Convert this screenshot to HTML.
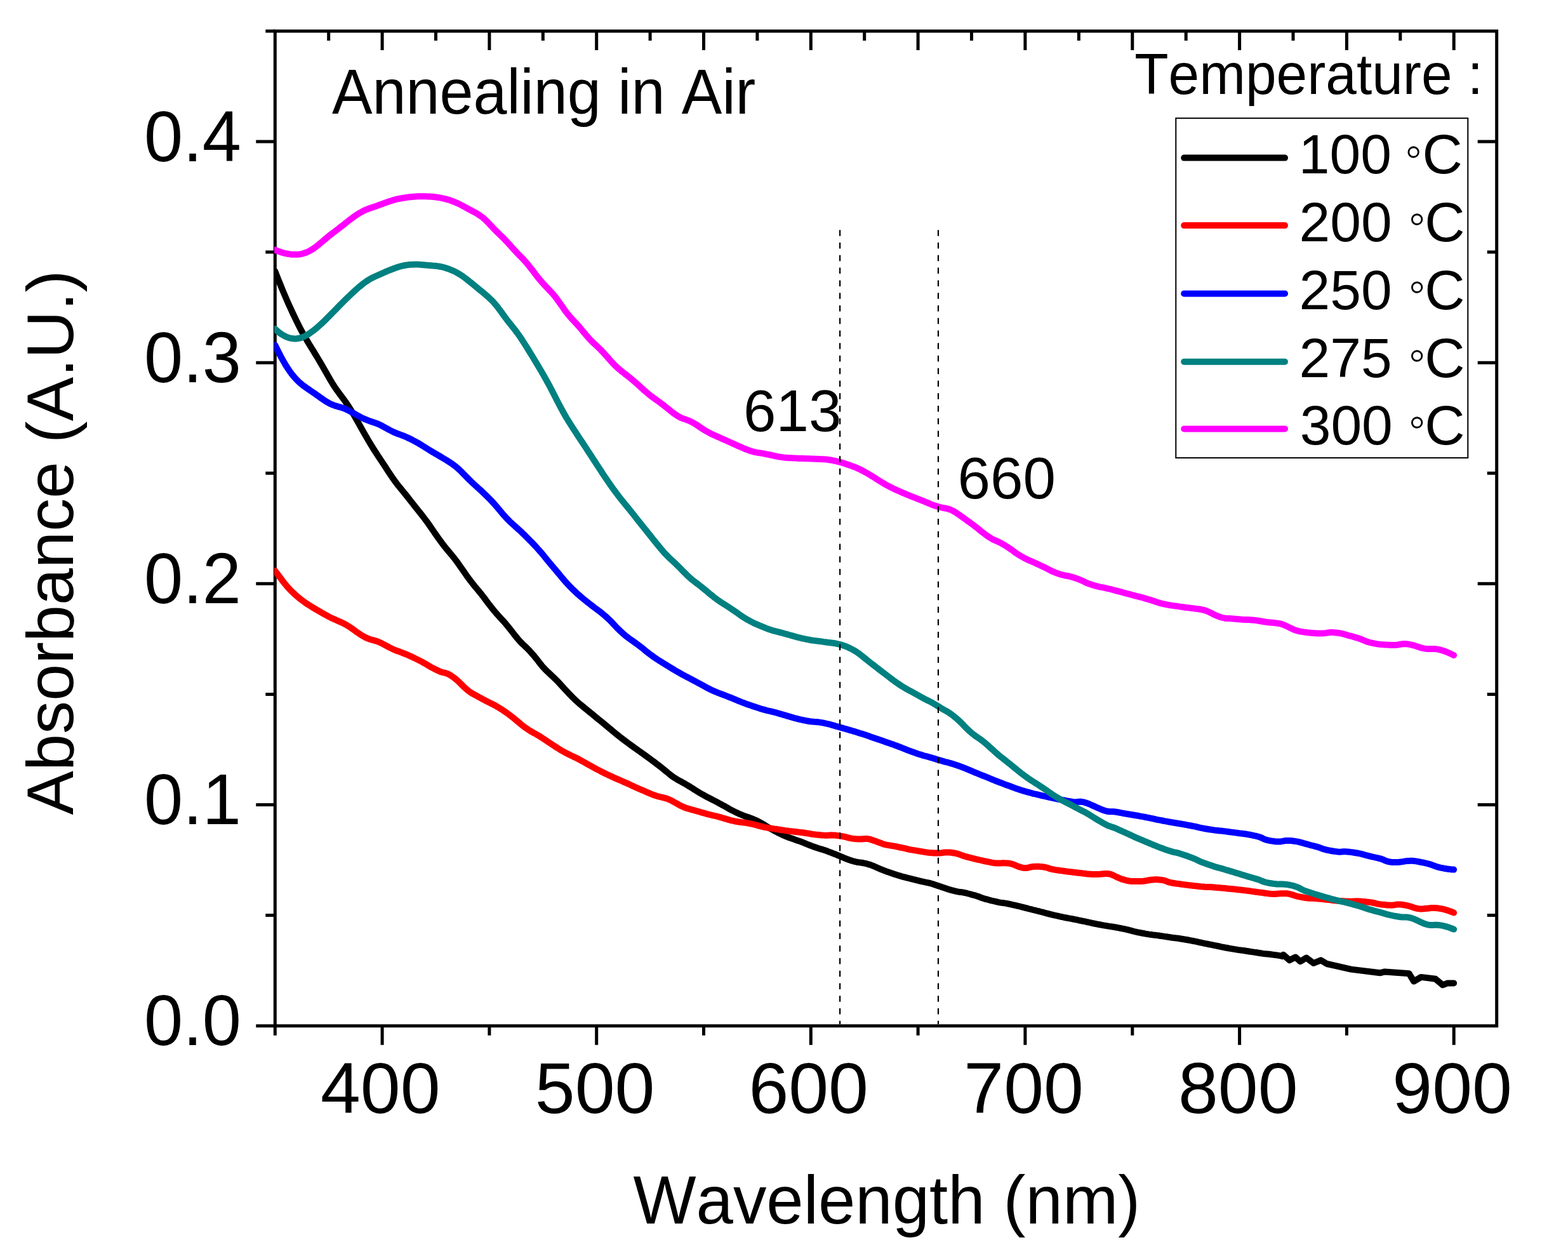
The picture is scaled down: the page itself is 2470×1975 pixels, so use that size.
<!DOCTYPE html>
<html><head><meta charset="utf-8"><title>Absorbance vs Wavelength</title>
<style>html,body{margin:0;padding:0;background:#fff;overflow:hidden}svg{display:block}text{font-family:"Liberation Sans",Arial,sans-serif;fill:#000;font-kerning:none;font-feature-settings:"kern" 0}</style></head><body>
<svg width="2470" height="1975" viewBox="0 0 2470 1975">
<rect x="0" y="0" width="2470" height="1975" fill="#fff"/>
<path d="M433.3 48.9H2357.7V1615.7H433.3Z" stroke="#000" stroke-width="5" fill="none" stroke-linejoin="miter"/>
<path d="M403.3 1615.7H433.3M418.3 1441.6H433.3M2357.7 1441.6H2342.7M403.3 1267.5H433.3M2357.7 1267.5H2327.7M418.3 1093.4H433.3M2357.7 1093.4H2342.7M403.3 919.3H433.3M2357.7 919.3H2327.7M418.3 745.3H433.3M2357.7 745.3H2342.7M403.3 571.2H433.3M2357.7 571.2H2327.7M418.3 397.1H433.3M2357.7 397.1H2342.7M403.3 223.0H433.3M2357.7 223.0H2327.7M418.3 48.9H433.3M433.3 1615.7V1630.7M602.1 1615.7V1645.7M770.9 1615.7V1630.7M939.7 1615.7V1645.7M1108.5 1615.7V1630.7M1277.3 1615.7V1645.7M1446.1 1615.7V1630.7M1614.9 1615.7V1645.7M1783.8 1615.7V1630.7M1952.6 1615.7V1645.7M2121.4 1615.7V1630.7M2290.2 1615.7V1645.7M517.7 48.9V63.9M602.1 48.9V78.9M686.5 48.9V63.9M770.9 48.9V78.9M855.3 48.9V63.9M939.7 48.9V78.9M1024.1 48.9V63.9M1108.5 48.9V78.9M1192.9 48.9V63.9M1277.3 48.9V78.9M1361.7 48.9V63.9M1446.1 48.9V78.9M1530.5 48.9V63.9M1614.9 48.9V78.9M1699.4 48.9V63.9M1783.8 48.9V78.9M1868.2 48.9V63.9M1952.6 48.9V78.9M2037.0 48.9V63.9M2121.4 48.9V78.9M2205.8 48.9V63.9M2290.2 48.9V78.9" stroke="#000" stroke-width="5" fill="none"/>
<defs><clipPath id="pc"><rect x="432" y="0" width="1980" height="1975"/></clipPath></defs><g clip-path="url(#pc)">
<path d="M433.3 427.2 L436.3 435.0 L439.3 442.6 L442.3 450.0 L445.3 457.3 L448.3 464.4 L451.3 471.4 L454.3 478.2 L457.3 484.8 L460.3 491.3 L463.3 497.7 L466.3 503.9 L469.3 510.0 L472.3 515.9 L475.3 521.6 L478.3 527.1 L481.3 532.4 L484.3 537.5 L487.3 542.5 L490.3 547.4 L493.3 552.2 L496.3 557.1 L499.3 562.0 L502.3 567.0 L505.3 572.1 L508.3 577.3 L511.3 582.5 L514.3 587.8 L517.3 593.0 L520.3 598.2 L523.3 603.2 L526.3 608.0 L529.3 612.5 L532.3 616.7 L535.3 620.8 L538.3 624.8 L541.3 628.8 L544.3 632.9 L547.3 637.3 L550.3 641.8 L553.3 646.6 L556.3 651.5 L559.3 656.7 L562.3 662.0 L565.3 667.4 L568.3 672.8 L571.3 678.1 L574.3 683.4 L577.3 688.6 L580.3 693.7 L583.3 698.8 L586.3 703.7 L589.3 708.5 L592.3 713.1 L595.3 717.7 L598.3 722.2 L601.3 726.7 L604.3 731.2 L607.3 735.8 L610.3 740.4 L613.3 745.0 L616.3 749.5 L619.3 753.9 L622.3 758.1 L625.3 762.1 L628.3 765.9 L631.3 769.5 L634.3 773.1 L637.3 776.8 L640.3 780.5 L643.3 784.3 L646.3 788.2 L649.3 792.0 L652.3 795.8 L655.3 799.6 L658.3 803.3 L661.3 807.1 L664.3 810.9 L667.3 814.8 L670.3 818.7 L673.3 822.8 L676.3 827.0 L679.3 831.3 L682.3 835.7 L685.3 840.1 L688.3 844.4 L691.3 848.6 L694.3 852.7 L697.3 856.7 L700.3 860.6 L703.3 864.3 L706.3 868.0 L709.3 871.5 L712.3 875.1 L715.3 878.8 L718.3 882.7 L721.3 886.8 L724.3 891.1 L727.3 895.4 L730.3 899.7 L733.3 904.0 L736.3 908.3 L739.3 912.4 L742.3 916.3 L745.3 920.1 L748.3 923.8 L751.3 927.4 L754.3 931.0 L757.3 934.7 L760.3 938.5 L763.3 942.4 L766.3 946.4 L769.3 950.4 L772.3 954.3 L775.3 958.1 L778.3 961.8 L781.3 965.4 L784.3 968.8 L787.3 972.1 L790.3 975.3 L793.3 978.5 L796.3 982.0 L799.3 985.6 L802.3 989.4 L805.3 993.2 L808.3 997.0 L811.3 1000.8 L814.3 1004.5 L817.3 1008.1 L820.3 1011.4 L823.3 1014.4 L826.3 1017.2 L829.3 1020.0 L832.3 1023.0 L835.3 1026.2 L838.3 1029.6 L841.3 1033.1 L844.3 1036.7 L847.3 1040.5 L850.3 1044.4 L853.3 1048.2 L856.3 1051.6 L859.3 1054.7 L862.3 1057.7 L865.3 1060.5 L868.3 1063.4 L871.3 1066.2 L874.3 1069.0 L877.3 1072.0 L880.3 1075.1 L883.3 1078.4 L886.3 1081.7 L889.3 1085.0 L892.3 1088.2 L895.3 1091.4 L898.3 1094.5 L901.3 1097.6 L904.3 1100.5 L907.3 1103.4 L910.3 1106.1 L913.3 1108.7 L916.3 1111.2 L919.3 1113.7 L922.3 1116.2 L925.3 1118.6 L928.3 1121.0 L931.3 1123.4 L934.3 1125.9 L937.3 1128.3 L940.3 1130.8 L943.3 1133.3 L946.3 1135.7 L949.3 1138.2 L952.3 1140.7 L955.3 1143.2 L958.3 1145.7 L961.3 1148.2 L964.3 1150.7 L967.3 1153.1 L970.3 1155.6 L973.3 1158.0 L976.3 1160.4 L979.3 1162.7 L982.3 1165.0 L985.3 1167.3 L988.3 1169.5 L991.3 1171.7 L994.3 1173.9 L997.3 1176.1 L1000.3 1178.3 L1003.3 1180.4 L1006.3 1182.5 L1009.3 1184.6 L1012.3 1186.8 L1015.3 1188.9 L1018.3 1191.1 L1021.3 1193.3 L1024.3 1195.5 L1027.3 1197.7 L1030.3 1199.9 L1033.3 1202.2 L1036.3 1204.5 L1039.3 1206.8 L1042.3 1209.2 L1045.3 1211.6 L1048.3 1214.0 L1051.3 1216.5 L1054.3 1219.0 L1057.3 1221.4 L1060.3 1223.6 L1063.3 1225.5 L1066.3 1227.4 L1069.3 1229.1 L1072.3 1230.7 L1075.3 1232.4 L1078.3 1234.0 L1081.3 1235.8 L1084.3 1237.6 L1087.3 1239.4 L1090.3 1241.3 L1093.3 1243.2 L1096.3 1245.1 L1099.3 1247.0 L1102.3 1248.8 L1105.3 1250.5 L1108.3 1252.2 L1111.3 1253.9 L1114.3 1255.5 L1117.3 1257.0 L1120.3 1258.5 L1123.3 1260.1 L1126.3 1261.6 L1129.3 1263.2 L1132.3 1264.8 L1135.3 1266.4 L1138.3 1268.1 L1141.3 1269.7 L1144.3 1271.4 L1147.3 1273.1 L1150.3 1274.8 L1153.3 1276.4 L1156.3 1277.9 L1159.3 1279.4 L1162.3 1280.8 L1165.3 1282.2 L1168.3 1283.4 L1171.3 1284.6 L1174.3 1285.7 L1177.3 1286.7 L1180.3 1287.8 L1183.3 1288.9 L1186.3 1290.0 L1189.3 1291.3 L1192.3 1292.6 L1195.3 1294.2 L1198.3 1295.8 L1201.3 1297.6 L1204.3 1299.4 L1207.3 1301.2 L1210.3 1303.1 L1213.3 1304.8 L1216.3 1306.5 L1219.3 1308.2 L1222.3 1309.7 L1225.3 1311.3 L1228.3 1312.8 L1231.3 1314.2 L1234.3 1315.6 L1237.3 1316.9 L1240.3 1318.1 L1243.3 1319.3 L1246.3 1320.3 L1249.3 1321.3 L1252.3 1322.4 L1255.3 1323.4 L1258.3 1324.4 L1261.3 1325.5 L1264.3 1326.6 L1267.3 1327.8 L1270.3 1329.1 L1273.3 1330.3 L1276.3 1331.5 L1279.3 1332.6 L1282.3 1333.7 L1285.3 1334.8 L1288.3 1335.8 L1291.3 1336.7 L1294.3 1337.6 L1297.3 1338.6 L1300.3 1339.6 L1303.3 1340.6 L1306.3 1341.8 L1309.3 1342.9 L1312.3 1344.1 L1315.3 1345.2 L1318.3 1346.5 L1321.3 1347.7 L1324.3 1349.0 L1327.3 1350.2 L1330.3 1351.5 L1333.3 1352.7 L1336.3 1353.8 L1339.3 1354.9 L1342.3 1355.8 L1345.3 1356.7 L1348.3 1357.4 L1351.3 1358.0 L1354.3 1358.4 L1357.3 1358.8 L1360.3 1359.3 L1363.3 1359.9 L1366.3 1360.7 L1369.3 1361.6 L1372.3 1362.6 L1375.3 1363.7 L1378.3 1365.0 L1381.3 1366.3 L1384.3 1367.7 L1387.3 1369.0 L1390.3 1370.1 L1393.3 1371.3 L1396.3 1372.4 L1399.3 1373.4 L1402.3 1374.5 L1405.3 1375.5 L1408.3 1376.6 L1411.3 1377.5 L1414.3 1378.5 L1417.3 1379.4 L1420.3 1380.3 L1423.3 1381.1 L1426.3 1381.9 L1429.3 1382.7 L1432.3 1383.4 L1435.3 1384.1 L1438.3 1384.9 L1441.3 1385.6 L1444.3 1386.4 L1447.3 1387.1 L1450.3 1387.9 L1453.3 1388.5 L1456.3 1389.2 L1459.3 1389.8 L1462.3 1390.4 L1465.3 1391.2 L1468.3 1392.0 L1471.3 1392.9 L1474.3 1393.9 L1477.3 1394.9 L1480.3 1395.9 L1483.3 1397.0 L1486.3 1398.1 L1489.3 1399.1 L1492.3 1400.1 L1495.3 1401.0 L1498.3 1401.9 L1501.3 1402.7 L1504.3 1403.4 L1507.3 1404.1 L1510.3 1404.7 L1513.3 1405.0 L1516.3 1405.4 L1519.3 1406.0 L1522.3 1406.7 L1525.3 1407.5 L1528.3 1408.2 L1531.3 1409.1 L1534.3 1409.9 L1537.3 1410.7 L1540.3 1411.7 L1543.3 1412.8 L1546.3 1414.0 L1549.3 1415.0 L1552.3 1415.9 L1555.3 1416.7 L1558.3 1417.5 L1561.3 1418.3 L1564.3 1419.0 L1567.3 1419.7 L1570.3 1420.4 L1573.3 1421.1 L1576.3 1421.6 L1579.3 1422.0 L1582.3 1422.4 L1585.3 1422.9 L1588.3 1423.5 L1591.3 1424.1 L1594.3 1424.8 L1597.3 1425.5 L1600.3 1426.1 L1603.3 1426.8 L1606.3 1427.5 L1609.3 1428.3 L1612.3 1429.1 L1615.3 1429.9 L1618.3 1430.7 L1621.3 1431.5 L1624.3 1432.2 L1627.3 1433.0 L1630.3 1433.7 L1633.3 1434.5 L1636.3 1435.2 L1639.3 1436.0 L1642.3 1436.7 L1645.3 1437.5 L1648.3 1438.3 L1651.3 1439.1 L1654.3 1439.9 L1657.3 1440.6 L1660.3 1441.3 L1663.3 1442.0 L1666.3 1442.7 L1669.3 1443.4 L1672.3 1444.0 L1675.3 1444.7 L1678.3 1445.3 L1681.3 1445.8 L1684.3 1446.4 L1687.3 1446.9 L1690.3 1447.5 L1693.3 1448.1 L1696.3 1448.7 L1699.3 1449.4 L1702.3 1450.0 L1705.3 1450.6 L1708.3 1451.2 L1711.3 1451.9 L1714.3 1452.5 L1717.3 1453.2 L1720.3 1453.9 L1723.3 1454.5 L1726.3 1455.1 L1729.3 1455.7 L1732.3 1456.2 L1735.3 1456.8 L1738.3 1457.4 L1741.3 1457.9 L1744.3 1458.4 L1747.3 1458.9 L1750.3 1459.3 L1753.3 1459.7 L1756.3 1460.3 L1759.3 1460.8 L1762.3 1461.4 L1765.3 1462.0 L1768.3 1462.6 L1771.3 1463.2 L1774.3 1463.9 L1777.3 1464.5 L1780.3 1465.3 L1783.3 1466.2 L1786.3 1467.0 L1789.3 1467.7 L1792.3 1468.3 L1795.3 1468.9 L1798.3 1469.5 L1801.3 1470.0 L1804.3 1470.6 L1807.3 1471.1 L1810.3 1471.6 L1813.3 1472.0 L1816.3 1472.4 L1819.3 1472.7 L1822.3 1473.1 L1825.3 1473.5 L1828.3 1474.0 L1831.3 1474.4 L1834.3 1474.9 L1837.3 1475.3 L1840.3 1475.8 L1843.3 1476.2 L1846.3 1476.7 L1849.3 1477.1 L1852.3 1477.4 L1855.3 1477.8 L1858.3 1478.3 L1861.3 1478.8 L1864.3 1479.3 L1867.3 1479.8 L1870.3 1480.3 L1873.3 1480.8 L1876.3 1481.4 L1879.3 1482.0 L1882.3 1482.5 L1885.3 1483.2 L1888.3 1483.9 L1891.3 1484.5 L1894.3 1485.2 L1897.3 1485.8 L1900.3 1486.4 L1903.3 1487.0 L1906.3 1487.6 L1909.3 1488.2 L1912.3 1488.8 L1915.3 1489.4 L1918.3 1490.0 L1921.3 1490.6 L1924.3 1491.3 L1927.3 1491.9 L1930.3 1492.5 L1933.3 1493.0 L1936.3 1493.6 L1939.3 1494.1 L1942.3 1494.6 L1945.3 1495.1 L1948.3 1495.6 L1951.3 1496.1 L1954.3 1496.5 L1957.3 1496.9 L1960.3 1497.3 L1963.3 1497.8 L1966.3 1498.2 L1969.3 1498.7 L1972.3 1499.1 L1975.3 1499.6 L1978.3 1500.0 L1981.3 1500.5 L1984.3 1501.0 L1987.3 1501.5 L1990.3 1501.9 L1993.3 1502.2 L1996.3 1502.5 L1999.3 1502.8 L2002.3 1503.2 L2005.3 1503.6 L2008.3 1504.0 L2011.3 1504.4 L2014.3 1504.9 L2017.3 1505.4 L2020.3 1506.1 L2021.7 1503.7 L2031.2 1512.3 L2040.7 1507.5 L2048.3 1514.2 L2057.8 1508.5 L2069.2 1517.0 L2080.6 1512.3 L2090.1 1518.0 L2128.2 1526.6 L2173.8 1532.3 L2181.4 1530.4 L2219.5 1533.2 L2227.1 1545.6 L2238.5 1538.9 L2261.3 1541.8 L2272.7 1551.3 L2280.3 1548.4 L2290.1 1548.4" stroke="#000000" stroke-width="10" fill="none" stroke-linejoin="round" stroke-linecap="round"/>
<path d="M433.3 899.1 L436.3 903.1 L439.3 907.1 L442.3 911.1 L445.3 915.1 L448.3 918.9 L451.3 922.5 L454.3 926.0 L457.3 929.2 L460.3 932.2 L463.3 935.0 L466.3 937.7 L469.3 940.3 L472.3 942.8 L475.3 945.1 L478.3 947.3 L481.3 949.5 L484.3 951.5 L487.3 953.4 L490.3 955.3 L493.3 957.1 L496.3 958.9 L499.3 960.7 L502.3 962.4 L505.3 964.1 L508.3 965.8 L511.3 967.6 L514.3 969.2 L517.3 970.9 L520.3 972.4 L523.3 973.9 L526.3 975.2 L529.3 976.5 L532.3 977.8 L535.3 979.1 L538.3 980.5 L541.3 981.9 L544.3 983.5 L547.3 985.2 L550.3 987.1 L553.3 989.1 L556.3 991.3 L559.3 993.5 L562.3 995.7 L565.3 997.7 L568.3 999.7 L571.3 1001.5 L574.3 1003.2 L577.3 1004.7 L580.3 1006.0 L583.3 1007.0 L586.3 1007.8 L589.3 1008.6 L592.3 1009.5 L595.3 1010.5 L598.3 1011.8 L601.3 1013.2 L604.3 1014.8 L607.3 1016.4 L610.3 1018.0 L613.3 1019.6 L616.3 1021.1 L619.3 1022.6 L622.3 1023.8 L625.3 1025.0 L628.3 1026.0 L631.3 1027.1 L634.3 1028.3 L637.3 1029.5 L640.3 1030.7 L643.3 1032.0 L646.3 1033.4 L649.3 1034.7 L652.3 1036.1 L655.3 1037.6 L658.3 1039.1 L661.3 1040.6 L664.3 1042.1 L667.3 1043.8 L670.3 1045.5 L673.3 1047.3 L676.3 1049.1 L679.3 1050.8 L682.3 1052.4 L685.3 1054.0 L688.3 1055.4 L691.3 1056.8 L694.3 1058.1 L697.3 1059.0 L700.3 1059.7 L703.3 1060.5 L706.3 1061.7 L709.3 1063.4 L712.3 1065.4 L715.3 1067.5 L718.3 1069.9 L721.3 1072.5 L724.3 1075.4 L727.3 1078.4 L730.3 1081.4 L733.3 1084.2 L736.3 1086.8 L739.3 1089.1 L742.3 1091.1 L745.3 1092.9 L748.3 1094.5 L751.3 1096.1 L754.3 1097.8 L757.3 1099.4 L760.3 1101.1 L763.3 1102.7 L766.3 1104.3 L769.3 1105.8 L772.3 1107.2 L775.3 1108.7 L778.3 1110.2 L781.3 1111.9 L784.3 1113.6 L787.3 1115.5 L790.3 1117.4 L793.3 1119.3 L796.3 1121.4 L799.3 1123.5 L802.3 1125.7 L805.3 1128.0 L808.3 1130.4 L811.3 1132.8 L814.3 1135.4 L817.3 1137.9 L820.3 1140.4 L823.3 1142.8 L826.3 1145.1 L829.3 1147.2 L832.3 1149.2 L835.3 1151.1 L838.3 1152.9 L841.3 1154.6 L844.3 1156.2 L847.3 1158.0 L850.3 1159.8 L853.3 1161.7 L856.3 1163.7 L859.3 1165.7 L862.3 1167.7 L865.3 1169.6 L868.3 1171.6 L871.3 1173.6 L874.3 1175.5 L877.3 1177.5 L880.3 1179.4 L883.3 1181.3 L886.3 1183.0 L889.3 1184.7 L892.3 1186.3 L895.3 1187.8 L898.3 1189.3 L901.3 1190.7 L904.3 1192.1 L907.3 1193.5 L910.3 1195.0 L913.3 1196.6 L916.3 1198.3 L919.3 1200.0 L922.3 1201.7 L925.3 1203.4 L928.3 1205.0 L931.3 1206.7 L934.3 1208.3 L937.3 1210.0 L940.3 1211.6 L943.3 1213.1 L946.3 1214.7 L949.3 1216.2 L952.3 1217.7 L955.3 1219.1 L958.3 1220.6 L961.3 1222.0 L964.3 1223.4 L967.3 1224.8 L970.3 1226.1 L973.3 1227.4 L976.3 1228.7 L979.3 1230.0 L982.3 1231.3 L985.3 1232.6 L988.3 1233.9 L991.3 1235.3 L994.3 1236.7 L997.3 1238.1 L1000.3 1239.5 L1003.3 1240.8 L1006.3 1242.2 L1009.3 1243.5 L1012.3 1244.7 L1015.3 1246.0 L1018.3 1247.3 L1021.3 1248.6 L1024.3 1249.9 L1027.3 1251.1 L1030.3 1252.2 L1033.3 1253.3 L1036.3 1254.2 L1039.3 1255.0 L1042.3 1255.7 L1045.3 1256.4 L1048.3 1257.1 L1051.3 1258.0 L1054.3 1259.3 L1057.3 1260.7 L1060.3 1262.3 L1063.3 1264.0 L1066.3 1265.7 L1069.3 1267.4 L1072.3 1269.0 L1075.3 1270.4 L1078.3 1271.7 L1081.3 1272.7 L1084.3 1273.7 L1087.3 1274.5 L1090.3 1275.4 L1093.3 1276.2 L1096.3 1277.0 L1099.3 1277.8 L1102.3 1278.7 L1105.3 1279.6 L1108.3 1280.4 L1111.3 1281.3 L1114.3 1282.1 L1117.3 1282.9 L1120.3 1283.6 L1123.3 1284.3 L1126.3 1285.0 L1129.3 1285.7 L1132.3 1286.5 L1135.3 1287.3 L1138.3 1288.2 L1141.3 1289.1 L1144.3 1290.0 L1147.3 1290.9 L1150.3 1291.8 L1153.3 1292.5 L1156.3 1293.2 L1159.3 1293.8 L1162.3 1294.3 L1165.3 1294.7 L1168.3 1295.1 L1171.3 1295.5 L1174.3 1295.9 L1177.3 1296.4 L1180.3 1296.9 L1183.3 1297.5 L1186.3 1298.2 L1189.3 1299.0 L1192.3 1299.7 L1195.3 1300.6 L1198.3 1301.3 L1201.3 1302.1 L1204.3 1302.8 L1207.3 1303.4 L1210.3 1303.9 L1213.3 1304.4 L1216.3 1304.9 L1219.3 1305.4 L1222.3 1305.8 L1225.3 1306.3 L1228.3 1306.7 L1231.3 1307.2 L1234.3 1307.6 L1237.3 1308.1 L1240.3 1308.5 L1243.3 1308.9 L1246.3 1309.2 L1249.3 1309.6 L1252.3 1309.9 L1255.3 1310.2 L1258.3 1310.6 L1261.3 1311.0 L1264.3 1311.3 L1267.3 1311.7 L1270.3 1312.2 L1273.3 1312.6 L1276.3 1313.2 L1279.3 1313.7 L1282.3 1314.1 L1285.3 1314.5 L1288.3 1314.8 L1291.3 1315.1 L1294.3 1315.4 L1297.3 1315.6 L1300.3 1315.7 L1303.3 1315.7 L1306.3 1315.4 L1309.3 1315.3 L1312.3 1315.4 L1315.3 1315.6 L1318.3 1315.9 L1321.3 1316.3 L1324.3 1316.7 L1327.3 1317.2 L1330.3 1317.8 L1333.3 1318.5 L1336.3 1319.4 L1339.3 1320.1 L1342.3 1320.6 L1345.3 1321.0 L1348.3 1321.3 L1351.3 1321.4 L1354.3 1321.5 L1357.3 1321.4 L1360.3 1321.2 L1363.3 1321.0 L1366.3 1321.1 L1369.3 1321.6 L1372.3 1322.4 L1375.3 1323.4 L1378.3 1324.4 L1381.3 1325.6 L1384.3 1326.7 L1387.3 1327.8 L1390.3 1328.9 L1393.3 1329.9 L1396.3 1330.6 L1399.3 1331.1 L1402.3 1331.6 L1405.3 1332.1 L1408.3 1332.6 L1411.3 1333.2 L1414.3 1333.8 L1417.3 1334.5 L1420.3 1335.1 L1423.3 1335.7 L1426.3 1336.4 L1429.3 1337.1 L1432.3 1337.8 L1435.3 1338.4 L1438.3 1338.9 L1441.3 1339.4 L1444.3 1339.9 L1447.3 1340.4 L1450.3 1340.9 L1453.3 1341.4 L1456.3 1341.9 L1459.3 1342.4 L1462.3 1342.8 L1465.3 1343.1 L1468.3 1343.3 L1471.3 1343.5 L1474.3 1343.6 L1477.3 1343.6 L1480.3 1343.5 L1483.3 1343.2 L1486.3 1342.8 L1489.3 1342.5 L1492.3 1342.5 L1495.3 1342.6 L1498.3 1342.8 L1501.3 1343.2 L1504.3 1343.7 L1507.3 1344.4 L1510.3 1345.3 L1513.3 1346.4 L1516.3 1347.5 L1519.3 1348.5 L1522.3 1349.3 L1525.3 1350.1 L1528.3 1350.8 L1531.3 1351.6 L1534.3 1352.3 L1537.3 1353.1 L1540.3 1353.8 L1543.3 1354.5 L1546.3 1355.2 L1549.3 1355.9 L1552.3 1356.5 L1555.3 1357.1 L1558.3 1357.7 L1561.3 1358.3 L1564.3 1358.9 L1567.3 1359.3 L1570.3 1359.5 L1573.3 1359.5 L1576.3 1359.4 L1579.3 1359.3 L1582.3 1359.3 L1585.3 1359.4 L1588.3 1359.6 L1591.3 1360.0 L1594.3 1360.8 L1597.3 1361.9 L1600.3 1363.2 L1603.3 1364.4 L1606.3 1365.4 L1609.3 1366.3 L1612.3 1366.9 L1615.3 1367.1 L1618.3 1366.9 L1621.3 1366.2 L1624.3 1365.4 L1627.3 1364.9 L1630.3 1364.7 L1633.3 1364.7 L1636.3 1364.8 L1639.3 1365.0 L1642.3 1365.3 L1645.3 1365.7 L1648.3 1366.3 L1651.3 1367.2 L1654.3 1368.3 L1657.3 1369.0 L1660.3 1369.6 L1663.3 1370.1 L1666.3 1370.5 L1669.3 1371.0 L1672.3 1371.4 L1675.3 1371.8 L1678.3 1372.2 L1681.3 1372.6 L1684.3 1373.0 L1687.3 1373.3 L1690.3 1373.7 L1693.3 1374.1 L1696.3 1374.4 L1699.3 1374.7 L1702.3 1375.1 L1705.3 1375.4 L1708.3 1375.7 L1711.3 1376.2 L1714.3 1376.6 L1717.3 1376.8 L1720.3 1377.0 L1723.3 1377.0 L1726.3 1377.0 L1729.3 1376.9 L1732.3 1376.8 L1735.3 1376.6 L1738.3 1376.3 L1741.3 1376.1 L1744.3 1376.1 L1747.3 1376.4 L1750.3 1377.1 L1753.3 1378.4 L1756.3 1379.9 L1759.3 1381.4 L1762.3 1382.7 L1765.3 1383.9 L1768.3 1384.9 L1771.3 1385.8 L1774.3 1386.6 L1777.3 1387.3 L1780.3 1387.7 L1783.3 1388.0 L1786.3 1388.1 L1789.3 1388.1 L1792.3 1388.1 L1795.3 1388.1 L1798.3 1387.9 L1801.3 1387.7 L1804.3 1387.3 L1807.3 1386.8 L1810.3 1386.2 L1813.3 1385.7 L1816.3 1385.4 L1819.3 1385.3 L1822.3 1385.3 L1825.3 1385.4 L1828.3 1385.7 L1831.3 1386.1 L1834.3 1386.8 L1837.3 1387.9 L1840.3 1389.1 L1843.3 1389.9 L1846.3 1390.5 L1849.3 1391.0 L1852.3 1391.5 L1855.3 1391.9 L1858.3 1392.3 L1861.3 1392.7 L1864.3 1393.1 L1867.3 1393.5 L1870.3 1393.9 L1873.3 1394.3 L1876.3 1394.6 L1879.3 1394.9 L1882.3 1395.3 L1885.3 1395.6 L1888.3 1395.9 L1891.3 1396.2 L1894.3 1396.4 L1897.3 1396.7 L1900.3 1396.9 L1903.3 1397.0 L1906.3 1397.1 L1909.3 1397.3 L1912.3 1397.5 L1915.3 1397.8 L1918.3 1398.0 L1921.3 1398.3 L1924.3 1398.6 L1927.3 1398.8 L1930.3 1399.1 L1933.3 1399.4 L1936.3 1399.7 L1939.3 1400.0 L1942.3 1400.3 L1945.3 1400.6 L1948.3 1400.9 L1951.3 1401.3 L1954.3 1401.6 L1957.3 1401.9 L1960.3 1402.3 L1963.3 1402.6 L1966.3 1403.0 L1969.3 1403.4 L1972.3 1403.9 L1975.3 1404.3 L1978.3 1404.7 L1981.3 1405.1 L1984.3 1405.5 L1987.3 1405.9 L1990.3 1406.3 L1993.3 1406.7 L1996.3 1407.1 L1999.3 1407.5 L2002.3 1407.8 L2005.3 1407.9 L2008.3 1407.9 L2011.3 1407.7 L2014.3 1407.5 L2017.3 1407.3 L2020.3 1407.2 L2023.3 1407.2 L2026.3 1407.3 L2029.3 1407.6 L2032.3 1408.2 L2035.3 1409.1 L2038.3 1410.1 L2041.3 1411.0 L2044.3 1411.8 L2047.3 1412.4 L2050.3 1413.0 L2053.3 1413.5 L2056.3 1414.0 L2059.3 1414.4 L2062.3 1414.7 L2065.3 1414.7 L2068.3 1414.8 L2071.3 1414.9 L2074.3 1415.2 L2077.3 1415.5 L2080.3 1415.8 L2083.3 1416.1 L2086.3 1416.4 L2089.3 1416.7 L2092.3 1417.0 L2095.3 1417.4 L2098.3 1417.8 L2101.3 1418.2 L2104.3 1418.4 L2107.3 1418.7 L2110.3 1418.9 L2113.3 1419.1 L2116.3 1419.3 L2119.3 1419.5 L2122.3 1419.6 L2125.3 1419.7 L2128.3 1419.8 L2131.3 1419.6 L2134.3 1419.4 L2137.3 1419.3 L2140.3 1419.5 L2143.3 1419.6 L2146.3 1419.9 L2149.3 1420.1 L2152.3 1420.4 L2155.3 1420.7 L2158.3 1421.1 L2161.3 1421.5 L2164.3 1422.1 L2167.3 1422.9 L2170.3 1423.6 L2173.3 1424.1 L2176.3 1424.5 L2179.3 1424.8 L2182.3 1425.1 L2185.3 1425.4 L2188.3 1425.6 L2191.3 1425.8 L2194.3 1425.6 L2197.3 1425.1 L2200.3 1424.6 L2203.3 1424.4 L2206.3 1424.6 L2209.3 1424.9 L2212.3 1425.4 L2215.3 1426.0 L2218.3 1426.7 L2221.3 1427.5 L2224.3 1428.4 L2227.3 1429.4 L2230.3 1430.4 L2233.3 1431.0 L2236.3 1431.4 L2239.3 1431.5 L2242.3 1431.3 L2245.3 1431.0 L2248.3 1430.7 L2251.3 1430.4 L2254.3 1430.1 L2257.3 1430.0 L2260.3 1430.1 L2263.3 1430.3 L2266.3 1430.6 L2269.3 1431.1 L2272.3 1431.7 L2275.3 1432.4 L2278.3 1433.2 L2281.3 1434.1 L2284.3 1435.2 L2287.3 1436.3 L2290.1 1437.5" stroke="#ff0000" stroke-width="10" fill="none" stroke-linejoin="round" stroke-linecap="round"/>
<path d="M433.3 543.6 L436.3 549.6 L439.3 555.6 L442.3 561.3 L445.3 566.8 L448.3 572.1 L451.3 577.1 L454.3 581.7 L457.3 586.0 L460.3 590.0 L463.3 593.7 L466.3 597.0 L469.3 600.1 L472.3 602.9 L475.3 605.4 L478.3 607.7 L481.3 609.9 L484.3 612.0 L487.3 614.0 L490.3 616.1 L493.3 618.1 L496.3 620.2 L499.3 622.3 L502.3 624.4 L505.3 626.6 L508.3 628.7 L511.3 630.8 L514.3 632.7 L517.3 634.4 L520.3 636.0 L523.3 637.3 L526.3 638.4 L529.3 639.4 L532.3 640.3 L535.3 641.1 L538.3 642.0 L541.3 643.0 L544.3 644.2 L547.3 645.6 L550.3 647.2 L553.3 648.8 L556.3 650.5 L559.3 652.2 L562.3 653.9 L565.3 655.5 L568.3 657.1 L571.3 658.6 L574.3 660.0 L577.3 661.2 L580.3 662.4 L583.3 663.5 L586.3 664.5 L589.3 665.5 L592.3 666.5 L595.3 667.7 L598.3 669.0 L601.3 670.5 L604.3 672.1 L607.3 673.8 L610.3 675.4 L613.3 677.1 L616.3 678.6 L619.3 680.1 L622.3 681.5 L625.3 682.7 L628.3 683.8 L631.3 684.9 L634.3 686.0 L637.3 687.2 L640.3 688.5 L643.3 689.9 L646.3 691.3 L649.3 692.8 L652.3 694.4 L655.3 696.0 L658.3 697.6 L661.3 699.4 L664.3 701.2 L667.3 703.1 L670.3 705.0 L673.3 706.9 L676.3 708.8 L679.3 710.6 L682.3 712.4 L685.3 714.1 L688.3 715.9 L691.3 717.6 L694.3 719.4 L697.3 721.2 L700.3 723.0 L703.3 724.8 L706.3 726.7 L709.3 728.6 L712.3 730.7 L715.3 732.8 L718.3 735.2 L721.3 737.8 L724.3 740.5 L727.3 743.4 L730.3 746.5 L733.3 749.6 L736.3 752.6 L739.3 755.6 L742.3 758.5 L745.3 761.4 L748.3 764.1 L751.3 766.9 L754.3 769.6 L757.3 772.3 L760.3 775.1 L763.3 778.0 L766.3 780.9 L769.3 783.8 L772.3 786.8 L775.3 790.0 L778.3 793.3 L781.3 796.8 L784.3 800.3 L787.3 803.9 L790.3 807.4 L793.3 810.9 L796.3 814.3 L799.3 817.5 L802.3 820.6 L805.3 823.4 L808.3 826.1 L811.3 828.8 L814.3 831.5 L817.3 834.2 L820.3 836.9 L823.3 839.8 L826.3 842.7 L829.3 845.7 L832.3 848.7 L835.3 851.7 L838.3 854.8 L841.3 858.0 L844.3 861.2 L847.3 864.5 L850.3 867.9 L853.3 871.3 L856.3 874.9 L859.3 878.6 L862.3 882.3 L865.3 885.9 L868.3 889.5 L871.3 893.1 L874.3 896.6 L877.3 900.2 L880.3 903.8 L883.3 907.4 L886.3 911.0 L889.3 914.5 L892.3 917.9 L895.3 921.1 L898.3 924.2 L901.3 927.3 L904.3 930.2 L907.3 933.0 L910.3 935.8 L913.3 938.4 L916.3 941.0 L919.3 943.5 L922.3 945.9 L925.3 948.3 L928.3 950.7 L931.3 953.0 L934.3 955.3 L937.3 957.6 L940.3 959.8 L943.3 962.0 L946.3 964.3 L949.3 966.7 L952.3 969.3 L955.3 971.9 L958.3 974.6 L961.3 977.5 L964.3 980.6 L967.3 983.9 L970.3 987.1 L973.3 990.2 L976.3 993.1 L979.3 995.9 L982.3 998.5 L985.3 1001.1 L988.3 1003.5 L991.3 1005.7 L994.3 1007.8 L997.3 1009.9 L1000.3 1012.1 L1003.3 1014.3 L1006.3 1016.5 L1009.3 1018.8 L1012.3 1021.2 L1015.3 1023.6 L1018.3 1026.1 L1021.3 1028.5 L1024.3 1030.7 L1027.3 1032.9 L1030.3 1035.1 L1033.3 1037.1 L1036.3 1039.1 L1039.3 1041.0 L1042.3 1042.9 L1045.3 1044.7 L1048.3 1046.6 L1051.3 1048.4 L1054.3 1050.3 L1057.3 1052.1 L1060.3 1053.9 L1063.3 1055.7 L1066.3 1057.5 L1069.3 1059.2 L1072.3 1060.9 L1075.3 1062.6 L1078.3 1064.2 L1081.3 1065.8 L1084.3 1067.3 L1087.3 1068.9 L1090.3 1070.5 L1093.3 1072.1 L1096.3 1073.7 L1099.3 1075.3 L1102.3 1076.9 L1105.3 1078.5 L1108.3 1080.2 L1111.3 1081.9 L1114.3 1083.5 L1117.3 1085.0 L1120.3 1086.5 L1123.3 1087.9 L1126.3 1089.2 L1129.3 1090.4 L1132.3 1091.6 L1135.3 1092.7 L1138.3 1093.8 L1141.3 1095.0 L1144.3 1096.1 L1147.3 1097.3 L1150.3 1098.5 L1153.3 1099.7 L1156.3 1101.0 L1159.3 1102.2 L1162.3 1103.5 L1165.3 1104.7 L1168.3 1105.9 L1171.3 1107.0 L1174.3 1108.2 L1177.3 1109.2 L1180.3 1110.3 L1183.3 1111.3 L1186.3 1112.4 L1189.3 1113.3 L1192.3 1114.3 L1195.3 1115.2 L1198.3 1116.2 L1201.3 1117.1 L1204.3 1117.9 L1207.3 1118.8 L1210.3 1119.5 L1213.3 1120.2 L1216.3 1120.9 L1219.3 1121.6 L1222.3 1122.3 L1225.3 1123.2 L1228.3 1124.1 L1231.3 1125.0 L1234.3 1125.9 L1237.3 1126.7 L1240.3 1127.6 L1243.3 1128.5 L1246.3 1129.4 L1249.3 1130.3 L1252.3 1131.2 L1255.3 1131.9 L1258.3 1132.7 L1261.3 1133.3 L1264.3 1134.0 L1267.3 1134.6 L1270.3 1135.2 L1273.3 1135.7 L1276.3 1136.2 L1279.3 1136.6 L1282.3 1136.8 L1285.3 1136.9 L1288.3 1137.2 L1291.3 1137.6 L1294.3 1138.1 L1297.3 1138.7 L1300.3 1139.3 L1303.3 1140.0 L1306.3 1140.7 L1309.3 1141.5 L1312.3 1142.4 L1315.3 1143.2 L1318.3 1144.1 L1321.3 1144.9 L1324.3 1145.8 L1327.3 1146.6 L1330.3 1147.5 L1333.3 1148.3 L1336.3 1149.2 L1339.3 1150.1 L1342.3 1151.0 L1345.3 1151.9 L1348.3 1152.8 L1351.3 1153.7 L1354.3 1154.7 L1357.3 1155.6 L1360.3 1156.6 L1363.3 1157.6 L1366.3 1158.6 L1369.3 1159.6 L1372.3 1160.7 L1375.3 1161.7 L1378.3 1162.7 L1381.3 1163.7 L1384.3 1164.8 L1387.3 1165.8 L1390.3 1166.8 L1393.3 1167.9 L1396.3 1168.9 L1399.3 1169.9 L1402.3 1171.0 L1405.3 1172.1 L1408.3 1173.1 L1411.3 1174.2 L1414.3 1175.3 L1417.3 1176.5 L1420.3 1177.6 L1423.3 1178.8 L1426.3 1180.0 L1429.3 1181.3 L1432.3 1182.4 L1435.3 1183.5 L1438.3 1184.6 L1441.3 1185.6 L1444.3 1186.7 L1447.3 1187.7 L1450.3 1188.6 L1453.3 1189.6 L1456.3 1190.5 L1459.3 1191.2 L1462.3 1192.0 L1465.3 1192.9 L1468.3 1193.7 L1471.3 1194.6 L1474.3 1195.6 L1477.3 1196.5 L1480.3 1197.4 L1483.3 1198.2 L1486.3 1199.1 L1489.3 1200.0 L1492.3 1200.7 L1495.3 1201.5 L1498.3 1202.4 L1501.3 1203.3 L1504.3 1204.3 L1507.3 1205.3 L1510.3 1206.3 L1513.3 1207.4 L1516.3 1208.5 L1519.3 1209.6 L1522.3 1210.8 L1525.3 1212.1 L1528.3 1213.4 L1531.3 1214.7 L1534.3 1216.0 L1537.3 1217.2 L1540.3 1218.4 L1543.3 1219.6 L1546.3 1220.8 L1549.3 1222.0 L1552.3 1223.2 L1555.3 1224.4 L1558.3 1225.6 L1561.3 1226.8 L1564.3 1228.1 L1567.3 1229.3 L1570.3 1230.5 L1573.3 1231.7 L1576.3 1232.8 L1579.3 1233.9 L1582.3 1235.1 L1585.3 1236.2 L1588.3 1237.3 L1591.3 1238.3 L1594.3 1239.5 L1597.3 1240.6 L1600.3 1241.7 L1603.3 1242.7 L1606.3 1243.7 L1609.3 1244.7 L1612.3 1245.6 L1615.3 1246.5 L1618.3 1247.4 L1621.3 1248.2 L1624.3 1249.0 L1627.3 1249.8 L1630.3 1250.5 L1633.3 1251.2 L1636.3 1251.9 L1639.3 1252.6 L1642.3 1253.3 L1645.3 1254.0 L1648.3 1254.7 L1651.3 1255.4 L1654.3 1256.0 L1657.3 1256.7 L1660.3 1257.3 L1663.3 1257.9 L1666.3 1258.5 L1669.3 1259.1 L1672.3 1259.7 L1675.3 1260.3 L1678.3 1260.8 L1681.3 1261.4 L1684.3 1261.9 L1687.3 1262.4 L1690.3 1262.9 L1693.3 1263.2 L1696.3 1263.0 L1699.3 1262.7 L1702.3 1262.6 L1705.3 1263.0 L1708.3 1263.7 L1711.3 1264.6 L1714.3 1265.7 L1717.3 1267.0 L1720.3 1268.3 L1723.3 1269.6 L1726.3 1271.0 L1729.3 1272.3 L1732.3 1273.7 L1735.3 1275.0 L1738.3 1276.1 L1741.3 1277.0 L1744.3 1277.8 L1747.3 1278.2 L1750.3 1278.3 L1753.3 1278.2 L1756.3 1278.5 L1759.3 1279.0 L1762.3 1279.5 L1765.3 1280.1 L1768.3 1280.7 L1771.3 1281.2 L1774.3 1281.8 L1777.3 1282.3 L1780.3 1282.8 L1783.3 1283.2 L1786.3 1283.7 L1789.3 1284.2 L1792.3 1284.7 L1795.3 1285.3 L1798.3 1285.9 L1801.3 1286.4 L1804.3 1287.0 L1807.3 1287.6 L1810.3 1288.2 L1813.3 1288.8 L1816.3 1289.4 L1819.3 1290.1 L1822.3 1290.8 L1825.3 1291.4 L1828.3 1291.9 L1831.3 1292.5 L1834.3 1293.1 L1837.3 1293.6 L1840.3 1294.2 L1843.3 1294.7 L1846.3 1295.3 L1849.3 1295.8 L1852.3 1296.2 L1855.3 1296.7 L1858.3 1297.2 L1861.3 1297.7 L1864.3 1298.3 L1867.3 1298.8 L1870.3 1299.4 L1873.3 1300.0 L1876.3 1300.5 L1879.3 1301.1 L1882.3 1301.7 L1885.3 1302.4 L1888.3 1303.2 L1891.3 1303.8 L1894.3 1304.4 L1897.3 1305.0 L1900.3 1305.5 L1903.3 1306.0 L1906.3 1306.5 L1909.3 1306.9 L1912.3 1307.4 L1915.3 1307.8 L1918.3 1308.1 L1921.3 1308.4 L1924.3 1308.6 L1927.3 1309.0 L1930.3 1309.4 L1933.3 1309.8 L1936.3 1310.2 L1939.3 1310.6 L1942.3 1311.0 L1945.3 1311.4 L1948.3 1311.8 L1951.3 1312.2 L1954.3 1312.6 L1957.3 1312.9 L1960.3 1313.2 L1963.3 1313.7 L1966.3 1314.3 L1969.3 1314.8 L1972.3 1315.4 L1975.3 1316.1 L1978.3 1316.7 L1981.3 1317.5 L1984.3 1318.3 L1987.3 1319.5 L1990.3 1321.1 L1993.3 1322.3 L1996.3 1323.2 L1999.3 1323.8 L2002.3 1324.4 L2005.3 1324.8 L2008.3 1325.2 L2011.3 1325.4 L2014.3 1325.5 L2017.3 1325.4 L2020.3 1324.9 L2023.3 1324.3 L2026.3 1324.0 L2029.3 1324.0 L2032.3 1324.1 L2035.3 1324.3 L2038.3 1324.7 L2041.3 1325.1 L2044.3 1325.6 L2047.3 1326.3 L2050.3 1327.1 L2053.3 1328.0 L2056.3 1328.9 L2059.3 1329.7 L2062.3 1330.5 L2065.3 1331.3 L2068.3 1332.0 L2071.3 1332.8 L2074.3 1333.6 L2077.3 1334.5 L2080.3 1335.6 L2083.3 1336.7 L2086.3 1337.7 L2089.3 1338.5 L2092.3 1339.1 L2095.3 1339.7 L2098.3 1340.2 L2101.3 1340.7 L2104.3 1341.1 L2107.3 1341.5 L2110.3 1341.7 L2113.3 1341.5 L2116.3 1341.2 L2119.3 1341.2 L2122.3 1341.4 L2125.3 1341.7 L2128.3 1342.1 L2131.3 1342.5 L2134.3 1343.0 L2137.3 1343.5 L2140.3 1344.0 L2143.3 1344.7 L2146.3 1345.4 L2149.3 1346.3 L2152.3 1347.2 L2155.3 1347.9 L2158.3 1348.6 L2161.3 1349.3 L2164.3 1350.0 L2167.3 1350.7 L2170.3 1351.3 L2173.3 1352.1 L2176.3 1352.9 L2179.3 1354.1 L2182.3 1355.5 L2185.3 1356.6 L2188.3 1357.3 L2191.3 1357.7 L2194.3 1358.0 L2197.3 1358.1 L2200.3 1358.0 L2203.3 1357.9 L2206.3 1357.5 L2209.3 1357.1 L2212.3 1356.6 L2215.3 1356.1 L2218.3 1355.9 L2221.3 1355.8 L2224.3 1355.8 L2227.3 1356.0 L2230.3 1356.4 L2233.3 1356.9 L2236.3 1357.5 L2239.3 1358.1 L2242.3 1358.7 L2245.3 1359.3 L2248.3 1360.0 L2251.3 1360.8 L2254.3 1361.8 L2257.3 1362.9 L2260.3 1364.0 L2263.3 1365.0 L2266.3 1365.9 L2269.3 1366.6 L2272.3 1367.2 L2275.3 1367.8 L2278.3 1368.3 L2281.3 1368.7 L2284.3 1369.1 L2287.3 1369.4 L2290.1 1369.6" stroke="#0000ff" stroke-width="10" fill="none" stroke-linejoin="round" stroke-linecap="round"/>
<path d="M433.3 518.1 L436.3 520.9 L439.3 523.4 L442.3 525.6 L445.3 527.5 L448.3 529.2 L451.3 530.6 L454.3 531.7 L457.3 532.6 L460.3 533.1 L463.3 533.4 L466.3 533.4 L469.3 533.1 L472.3 532.5 L475.3 531.6 L478.3 530.4 L481.3 528.9 L484.3 527.2 L487.3 525.3 L490.3 523.2 L493.3 521.0 L496.3 518.6 L499.3 516.1 L502.3 513.5 L505.3 510.8 L508.3 508.0 L511.3 505.1 L514.3 502.1 L517.3 499.1 L520.3 496.1 L523.3 493.0 L526.3 490.0 L529.3 486.9 L532.3 483.9 L535.3 480.8 L538.3 477.8 L541.3 474.8 L544.3 471.8 L547.3 468.9 L550.3 466.0 L553.3 463.2 L556.3 460.4 L559.3 457.6 L562.3 454.9 L565.3 452.3 L568.3 449.8 L571.3 447.4 L574.3 445.1 L577.3 443.0 L580.3 441.0 L583.3 439.2 L586.3 437.6 L589.3 436.2 L592.3 434.8 L595.3 433.5 L598.3 432.2 L601.3 430.8 L604.3 429.5 L607.3 428.2 L610.3 426.9 L613.3 425.7 L616.3 424.5 L619.3 423.3 L622.3 422.2 L625.3 421.1 L628.3 420.2 L631.3 419.3 L634.3 418.6 L637.3 418.0 L640.3 417.5 L643.3 417.1 L646.3 416.8 L649.3 416.7 L652.3 416.6 L655.3 416.5 L658.3 416.6 L661.3 416.7 L664.3 416.9 L667.3 417.2 L670.3 417.5 L673.3 417.8 L676.3 418.0 L679.3 418.3 L682.3 418.6 L685.3 418.8 L688.3 419.1 L691.3 419.5 L694.3 420.0 L697.3 420.7 L700.3 421.5 L703.3 422.4 L706.3 423.4 L709.3 424.6 L712.3 425.8 L715.3 427.1 L718.3 428.6 L721.3 430.3 L724.3 432.1 L727.3 434.0 L730.3 436.1 L733.3 438.4 L736.3 440.7 L739.3 443.1 L742.3 445.5 L745.3 447.9 L748.3 450.4 L751.3 452.8 L754.3 455.3 L757.3 457.8 L760.3 460.2 L763.3 462.8 L766.3 465.3 L769.3 468.0 L772.3 470.8 L775.3 473.7 L778.3 476.9 L781.3 480.4 L784.3 484.2 L787.3 488.2 L790.3 492.3 L793.3 496.5 L796.3 500.6 L799.3 504.6 L802.3 508.4 L805.3 512.2 L808.3 515.9 L811.3 519.7 L814.3 523.6 L817.3 527.7 L820.3 532.1 L823.3 536.7 L826.3 541.4 L829.3 546.2 L832.3 551.0 L835.3 555.9 L838.3 560.7 L841.3 565.7 L844.3 570.6 L847.3 575.6 L850.3 580.7 L853.3 585.8 L856.3 591.0 L859.3 596.3 L862.3 601.7 L865.3 607.2 L868.3 612.9 L871.3 618.7 L874.3 624.5 L877.3 630.4 L880.3 636.2 L883.3 641.9 L886.3 647.5 L889.3 652.8 L892.3 658.0 L895.3 662.9 L898.3 667.7 L901.3 672.4 L904.3 677.0 L907.3 681.6 L910.3 686.2 L913.3 690.7 L916.3 695.3 L919.3 699.8 L922.3 704.3 L925.3 708.9 L928.3 713.5 L931.3 718.1 L934.3 722.7 L937.3 727.3 L940.3 731.9 L943.3 736.5 L946.3 741.1 L949.3 745.7 L952.3 750.2 L955.3 754.6 L958.3 759.0 L961.3 763.3 L964.3 767.6 L967.3 771.8 L970.3 775.8 L973.3 779.8 L976.3 783.7 L979.3 787.5 L982.3 791.2 L985.3 794.9 L988.3 798.5 L991.3 802.2 L994.3 806.0 L997.3 809.7 L1000.3 813.5 L1003.3 817.3 L1006.3 821.1 L1009.3 824.9 L1012.3 828.6 L1015.3 832.3 L1018.3 836.0 L1021.3 839.8 L1024.3 843.5 L1027.3 847.3 L1030.3 851.1 L1033.3 854.8 L1036.3 858.5 L1039.3 862.2 L1042.3 865.8 L1045.3 869.3 L1048.3 872.5 L1051.3 875.6 L1054.3 878.6 L1057.3 881.4 L1060.3 884.1 L1063.3 886.9 L1066.3 889.8 L1069.3 892.8 L1072.3 895.8 L1075.3 898.9 L1078.3 901.9 L1081.3 904.9 L1084.3 907.8 L1087.3 910.5 L1090.3 913.1 L1093.3 915.4 L1096.3 917.7 L1099.3 919.9 L1102.3 922.3 L1105.3 924.6 L1108.3 927.1 L1111.3 929.5 L1114.3 932.0 L1117.3 934.6 L1120.3 937.0 L1123.3 939.4 L1126.3 941.8 L1129.3 944.0 L1132.3 946.2 L1135.3 948.2 L1138.3 950.1 L1141.3 952.0 L1144.3 953.9 L1147.3 955.9 L1150.3 957.8 L1153.3 959.8 L1156.3 961.9 L1159.3 963.9 L1162.3 966.0 L1165.3 968.2 L1168.3 970.3 L1171.3 972.2 L1174.3 974.1 L1177.3 975.8 L1180.3 977.5 L1183.3 979.1 L1186.3 980.7 L1189.3 982.1 L1192.3 983.4 L1195.3 984.7 L1198.3 986.0 L1201.3 987.2 L1204.3 988.4 L1207.3 989.6 L1210.3 990.7 L1213.3 991.7 L1216.3 992.7 L1219.3 993.7 L1222.3 994.4 L1225.3 995.1 L1228.3 995.9 L1231.3 996.7 L1234.3 997.5 L1237.3 998.4 L1240.3 999.2 L1243.3 1000.0 L1246.3 1000.8 L1249.3 1001.6 L1252.3 1002.5 L1255.3 1003.4 L1258.3 1004.2 L1261.3 1004.9 L1264.3 1005.6 L1267.3 1006.2 L1270.3 1006.8 L1273.3 1007.4 L1276.3 1008.0 L1279.3 1008.5 L1282.3 1008.9 L1285.3 1009.3 L1288.3 1009.6 L1291.3 1010.0 L1294.3 1010.4 L1297.3 1010.9 L1300.3 1011.3 L1303.3 1011.7 L1306.3 1012.1 L1309.3 1012.4 L1312.3 1012.8 L1315.3 1013.2 L1318.3 1013.8 L1321.3 1014.5 L1324.3 1015.3 L1327.3 1016.3 L1330.3 1017.3 L1333.3 1018.4 L1336.3 1019.7 L1339.3 1021.1 L1342.3 1022.6 L1345.3 1024.3 L1348.3 1026.1 L1351.3 1028.1 L1354.3 1030.3 L1357.3 1032.6 L1360.3 1035.1 L1363.3 1037.5 L1366.3 1039.9 L1369.3 1042.3 L1372.3 1044.6 L1375.3 1047.0 L1378.3 1049.3 L1381.3 1051.6 L1384.3 1054.0 L1387.3 1056.3 L1390.3 1058.6 L1393.3 1060.8 L1396.3 1063.1 L1399.3 1065.4 L1402.3 1067.7 L1405.3 1070.0 L1408.3 1072.2 L1411.3 1074.4 L1414.3 1076.5 L1417.3 1078.5 L1420.3 1080.5 L1423.3 1082.3 L1426.3 1084.1 L1429.3 1085.8 L1432.3 1087.5 L1435.3 1089.0 L1438.3 1090.7 L1441.3 1092.3 L1444.3 1094.0 L1447.3 1095.7 L1450.3 1097.3 L1453.3 1099.0 L1456.3 1100.6 L1459.3 1102.2 L1462.3 1103.6 L1465.3 1105.1 L1468.3 1106.7 L1471.3 1108.5 L1474.3 1110.3 L1477.3 1112.1 L1480.3 1113.9 L1483.3 1115.8 L1486.3 1117.6 L1489.3 1119.2 L1492.3 1120.9 L1495.3 1122.7 L1498.3 1124.8 L1501.3 1127.1 L1504.3 1129.5 L1507.3 1132.0 L1510.3 1134.7 L1513.3 1137.5 L1516.3 1140.6 L1519.3 1143.7 L1522.3 1146.8 L1525.3 1149.7 L1528.3 1152.5 L1531.3 1155.0 L1534.3 1157.4 L1537.3 1159.6 L1540.3 1161.7 L1543.3 1163.7 L1546.3 1165.8 L1549.3 1168.2 L1552.3 1170.7 L1555.3 1173.3 L1558.3 1176.0 L1561.3 1178.6 L1564.3 1181.3 L1567.3 1184.1 L1570.3 1186.8 L1573.3 1189.4 L1576.3 1191.8 L1579.3 1194.1 L1582.3 1196.5 L1585.3 1198.9 L1588.3 1201.3 L1591.3 1203.7 L1594.3 1206.1 L1597.3 1208.6 L1600.3 1211.0 L1603.3 1213.5 L1606.3 1215.9 L1609.3 1218.3 L1612.3 1220.5 L1615.3 1222.7 L1618.3 1224.9 L1621.3 1227.0 L1624.3 1229.0 L1627.3 1230.9 L1630.3 1232.8 L1633.3 1234.7 L1636.3 1236.7 L1639.3 1238.7 L1642.3 1240.7 L1645.3 1242.7 L1648.3 1244.7 L1651.3 1246.8 L1654.3 1248.9 L1657.3 1251.0 L1660.3 1252.9 L1663.3 1254.8 L1666.3 1256.6 L1669.3 1258.4 L1672.3 1260.1 L1675.3 1261.7 L1678.3 1263.3 L1681.3 1264.8 L1684.3 1266.3 L1687.3 1267.8 L1690.3 1269.4 L1693.3 1271.0 L1696.3 1272.6 L1699.3 1274.2 L1702.3 1275.7 L1705.3 1277.2 L1708.3 1278.7 L1711.3 1280.4 L1714.3 1282.1 L1717.3 1284.0 L1720.3 1285.9 L1723.3 1287.8 L1726.3 1289.6 L1729.3 1291.4 L1732.3 1293.2 L1735.3 1294.9 L1738.3 1296.7 L1741.3 1298.3 L1744.3 1299.8 L1747.3 1301.1 L1750.3 1302.1 L1753.3 1303.0 L1756.3 1304.2 L1759.3 1305.4 L1762.3 1306.8 L1765.3 1308.1 L1768.3 1309.5 L1771.3 1310.8 L1774.3 1312.2 L1777.3 1313.5 L1780.3 1314.9 L1783.3 1316.3 L1786.3 1317.7 L1789.3 1319.1 L1792.3 1320.4 L1795.3 1321.7 L1798.3 1322.9 L1801.3 1324.2 L1804.3 1325.5 L1807.3 1326.7 L1810.3 1328.0 L1813.3 1329.2 L1816.3 1330.5 L1819.3 1331.7 L1822.3 1332.9 L1825.3 1334.1 L1828.3 1335.2 L1831.3 1336.3 L1834.3 1337.4 L1837.3 1338.4 L1840.3 1339.4 L1843.3 1340.4 L1846.3 1341.3 L1849.3 1342.1 L1852.3 1342.7 L1855.3 1343.4 L1858.3 1344.3 L1861.3 1345.2 L1864.3 1346.2 L1867.3 1347.2 L1870.3 1348.3 L1873.3 1349.4 L1876.3 1350.5 L1879.3 1351.6 L1882.3 1352.8 L1885.3 1354.2 L1888.3 1355.7 L1891.3 1357.1 L1894.3 1358.3 L1897.3 1359.4 L1900.3 1360.5 L1903.3 1361.6 L1906.3 1362.6 L1909.3 1363.6 L1912.3 1364.6 L1915.3 1365.5 L1918.3 1366.4 L1921.3 1367.2 L1924.3 1367.9 L1927.3 1368.8 L1930.3 1369.7 L1933.3 1370.6 L1936.3 1371.4 L1939.3 1372.4 L1942.3 1373.3 L1945.3 1374.2 L1948.3 1375.1 L1951.3 1376.0 L1954.3 1376.9 L1957.3 1377.9 L1960.3 1378.8 L1963.3 1379.7 L1966.3 1380.6 L1969.3 1381.5 L1972.3 1382.3 L1975.3 1383.2 L1978.3 1384.1 L1981.3 1385.0 L1984.3 1386.0 L1987.3 1387.3 L1990.3 1388.5 L1993.3 1389.5 L1996.3 1390.2 L1999.3 1390.8 L2002.3 1391.3 L2005.3 1391.8 L2008.3 1392.1 L2011.3 1392.4 L2014.3 1392.6 L2017.3 1392.6 L2020.3 1392.6 L2023.3 1392.7 L2026.3 1393.0 L2029.3 1393.4 L2032.3 1394.0 L2035.3 1394.7 L2038.3 1395.4 L2041.3 1396.4 L2044.3 1397.5 L2047.3 1398.9 L2050.3 1400.6 L2053.3 1402.1 L2056.3 1403.3 L2059.3 1404.3 L2062.3 1405.3 L2065.3 1406.3 L2068.3 1407.2 L2071.3 1408.2 L2074.3 1409.1 L2077.3 1410.0 L2080.3 1410.9 L2083.3 1411.8 L2086.3 1412.7 L2089.3 1413.5 L2092.3 1414.4 L2095.3 1415.2 L2098.3 1416.1 L2101.3 1416.9 L2104.3 1417.7 L2107.3 1418.4 L2110.3 1419.2 L2113.3 1419.8 L2116.3 1420.4 L2119.3 1421.1 L2122.3 1421.9 L2125.3 1422.6 L2128.3 1423.4 L2131.3 1424.3 L2134.3 1425.1 L2137.3 1425.9 L2140.3 1426.8 L2143.3 1427.7 L2146.3 1428.6 L2149.3 1429.7 L2152.3 1430.7 L2155.3 1431.7 L2158.3 1432.6 L2161.3 1433.4 L2164.3 1434.3 L2167.3 1435.1 L2170.3 1435.9 L2173.3 1436.7 L2176.3 1437.5 L2179.3 1438.4 L2182.3 1439.3 L2185.3 1440.1 L2188.3 1440.8 L2191.3 1441.5 L2194.3 1442.2 L2197.3 1442.8 L2200.3 1443.3 L2203.3 1443.8 L2206.3 1444.3 L2209.3 1444.5 L2212.3 1444.4 L2215.3 1444.5 L2218.3 1444.8 L2221.3 1445.4 L2224.3 1446.3 L2227.3 1447.4 L2230.3 1448.6 L2233.3 1450.0 L2236.3 1451.5 L2239.3 1452.9 L2242.3 1454.2 L2245.3 1455.3 L2248.3 1456.2 L2251.3 1456.8 L2254.3 1457.0 L2257.3 1456.9 L2260.3 1456.8 L2263.3 1456.8 L2266.3 1457.0 L2269.3 1457.4 L2272.3 1457.9 L2275.3 1458.6 L2278.3 1459.4 L2281.3 1460.3 L2284.3 1461.3 L2287.3 1462.5 L2290.1 1463.6" stroke="#008080" stroke-width="10" fill="none" stroke-linejoin="round" stroke-linecap="round"/>
<path d="M433.3 393.6 L436.3 394.9 L439.3 396.1 L442.3 397.1 L445.3 398.0 L448.3 398.8 L451.3 399.4 L454.3 400.0 L457.3 400.4 L460.3 400.7 L463.3 400.8 L466.3 400.8 L469.3 400.7 L472.3 400.4 L475.3 399.8 L478.3 399.1 L481.3 398.1 L484.3 396.9 L487.3 395.4 L490.3 393.7 L493.3 391.8 L496.3 389.7 L499.3 387.4 L502.3 385.0 L505.3 382.5 L508.3 380.0 L511.3 377.4 L514.3 374.9 L517.3 372.4 L520.3 370.0 L523.3 367.7 L526.3 365.4 L529.3 363.2 L532.3 360.9 L535.3 358.5 L538.3 356.2 L541.3 353.8 L544.3 351.4 L547.3 349.1 L550.3 346.7 L553.3 344.5 L556.3 342.3 L559.3 340.2 L562.3 338.2 L565.3 336.2 L568.3 334.5 L571.3 332.8 L574.3 331.3 L577.3 330.0 L580.3 328.8 L583.3 327.7 L586.3 326.7 L589.3 325.7 L592.3 324.7 L595.3 323.6 L598.3 322.6 L601.3 321.5 L604.3 320.4 L607.3 319.3 L610.3 318.2 L613.3 317.1 L616.3 316.2 L619.3 315.3 L622.3 314.4 L625.3 313.7 L628.3 313.0 L631.3 312.5 L634.3 311.9 L637.3 311.5 L640.3 311.0 L643.3 310.6 L646.3 310.3 L649.3 310.0 L652.3 309.7 L655.3 309.5 L658.3 309.3 L661.3 309.2 L664.3 309.2 L667.3 309.2 L670.3 309.3 L673.3 309.4 L676.3 309.6 L679.3 309.8 L682.3 310.0 L685.3 310.3 L688.3 310.7 L691.3 311.1 L694.3 311.7 L697.3 312.3 L700.3 313.0 L703.3 313.8 L706.3 314.6 L709.3 315.6 L712.3 316.7 L715.3 317.8 L718.3 319.1 L721.3 320.4 L724.3 321.9 L727.3 323.4 L730.3 325.0 L733.3 326.7 L736.3 328.3 L739.3 329.9 L742.3 331.5 L745.3 333.1 L748.3 334.7 L751.3 336.4 L754.3 338.3 L757.3 340.3 L760.3 342.5 L763.3 345.1 L766.3 348.0 L769.3 351.1 L772.3 354.2 L775.3 357.4 L778.3 360.6 L781.3 363.6 L784.3 366.6 L787.3 369.5 L790.3 372.4 L793.3 375.3 L796.3 378.4 L799.3 381.6 L802.3 384.9 L805.3 388.3 L808.3 391.6 L811.3 394.9 L814.3 398.1 L817.3 401.2 L820.3 404.2 L823.3 407.3 L826.3 410.5 L829.3 413.9 L832.3 417.5 L835.3 421.3 L838.3 425.1 L841.3 429.1 L844.3 433.0 L847.3 436.9 L850.3 440.6 L853.3 444.1 L856.3 447.5 L859.3 450.7 L862.3 453.8 L865.3 456.9 L868.3 460.1 L871.3 463.4 L874.3 467.0 L877.3 471.0 L880.3 475.1 L883.3 479.4 L886.3 483.6 L889.3 487.9 L892.3 491.9 L895.3 495.8 L898.3 499.3 L901.3 502.6 L904.3 505.8 L907.3 509.0 L910.3 512.3 L913.3 515.8 L916.3 519.4 L919.3 523.0 L922.3 526.6 L925.3 530.1 L928.3 533.4 L931.3 536.6 L934.3 539.6 L937.3 542.4 L940.3 545.1 L943.3 548.0 L946.3 551.0 L949.3 554.2 L952.3 557.4 L955.3 560.7 L958.3 564.1 L961.3 567.5 L964.3 570.8 L967.3 574.0 L970.3 577.0 L973.3 579.7 L976.3 582.3 L979.3 584.8 L982.3 587.1 L985.3 589.5 L988.3 591.8 L991.3 594.2 L994.3 596.6 L997.3 599.1 L1000.3 601.7 L1003.3 604.3 L1006.3 607.1 L1009.3 609.8 L1012.3 612.5 L1015.3 615.2 L1018.3 617.8 L1021.3 620.4 L1024.3 622.7 L1027.3 625.0 L1030.3 627.2 L1033.3 629.3 L1036.3 631.5 L1039.3 633.7 L1042.3 636.0 L1045.3 638.3 L1048.3 640.6 L1051.3 643.0 L1054.3 645.5 L1057.3 647.9 L1060.3 650.2 L1063.3 652.4 L1066.3 654.4 L1069.3 656.2 L1072.3 657.8 L1075.3 659.0 L1078.3 660.1 L1081.3 661.1 L1084.3 662.2 L1087.3 663.5 L1090.3 665.0 L1093.3 666.7 L1096.3 668.5 L1099.3 670.5 L1102.3 672.5 L1105.3 674.5 L1108.3 676.5 L1111.3 678.3 L1114.3 680.0 L1117.3 681.7 L1120.3 683.2 L1123.3 684.7 L1126.3 686.0 L1129.3 687.4 L1132.3 688.7 L1135.3 690.0 L1138.3 691.4 L1141.3 692.7 L1144.3 694.0 L1147.3 695.3 L1150.3 696.7 L1153.3 698.0 L1156.3 699.4 L1159.3 700.7 L1162.3 702.1 L1165.3 703.4 L1168.3 704.7 L1171.3 706.0 L1174.3 707.3 L1177.3 708.4 L1180.3 709.5 L1183.3 710.5 L1186.3 711.3 L1189.3 712.1 L1192.3 712.7 L1195.3 713.1 L1198.3 713.6 L1201.3 714.1 L1204.3 714.7 L1207.3 715.3 L1210.3 715.9 L1213.3 716.5 L1216.3 717.1 L1219.3 717.8 L1222.3 718.5 L1225.3 719.1 L1228.3 719.6 L1231.3 720.0 L1234.3 720.4 L1237.3 720.7 L1240.3 721.0 L1243.3 721.2 L1246.3 721.3 L1249.3 721.4 L1252.3 721.6 L1255.3 721.7 L1258.3 721.9 L1261.3 722.0 L1264.3 722.1 L1267.3 722.2 L1270.3 722.3 L1273.3 722.3 L1276.3 722.4 L1279.3 722.6 L1282.3 722.7 L1285.3 722.8 L1288.3 723.0 L1291.3 723.1 L1294.3 723.2 L1297.3 723.3 L1300.3 723.5 L1303.3 723.8 L1306.3 724.2 L1309.3 724.7 L1312.3 725.3 L1315.3 725.9 L1318.3 726.6 L1321.3 727.3 L1324.3 728.1 L1327.3 729.0 L1330.3 729.9 L1333.3 730.9 L1336.3 731.9 L1339.3 733.0 L1342.3 734.1 L1345.3 735.2 L1348.3 736.4 L1351.3 737.7 L1354.3 739.1 L1357.3 740.5 L1360.3 742.1 L1363.3 743.8 L1366.3 745.5 L1369.3 747.3 L1372.3 749.1 L1375.3 750.9 L1378.3 752.8 L1381.3 754.7 L1384.3 756.6 L1387.3 758.5 L1390.3 760.3 L1393.3 762.1 L1396.3 763.8 L1399.3 765.4 L1402.3 767.0 L1405.3 768.5 L1408.3 770.0 L1411.3 771.3 L1414.3 772.7 L1417.3 774.0 L1420.3 775.3 L1423.3 776.6 L1426.3 777.9 L1429.3 779.2 L1432.3 780.4 L1435.3 781.6 L1438.3 782.8 L1441.3 783.9 L1444.3 785.1 L1447.3 786.3 L1450.3 787.5 L1453.3 788.7 L1456.3 789.9 L1459.3 791.1 L1462.3 792.4 L1465.3 793.7 L1468.3 794.9 L1471.3 795.9 L1474.3 796.9 L1477.3 797.8 L1480.3 798.7 L1483.3 799.4 L1486.3 800.0 L1489.3 800.5 L1492.3 801.1 L1495.3 802.0 L1498.3 803.1 L1501.3 804.6 L1504.3 806.4 L1507.3 808.3 L1510.3 810.3 L1513.3 812.5 L1516.3 814.6 L1519.3 816.8 L1522.3 819.0 L1525.3 821.1 L1528.3 823.3 L1531.3 825.5 L1534.3 827.7 L1537.3 830.0 L1540.3 832.4 L1543.3 834.9 L1546.3 837.3 L1549.3 839.6 L1552.3 841.9 L1555.3 844.0 L1558.3 846.0 L1561.3 847.9 L1564.3 849.6 L1567.3 851.0 L1570.3 852.2 L1573.3 853.6 L1576.3 855.1 L1579.3 856.8 L1582.3 858.5 L1585.3 860.4 L1588.3 862.3 L1591.3 864.3 L1594.3 866.4 L1597.3 868.7 L1600.3 870.9 L1603.3 872.9 L1606.3 874.8 L1609.3 876.5 L1612.3 878.2 L1615.3 879.8 L1618.3 881.3 L1621.3 882.7 L1624.3 883.9 L1627.3 885.2 L1630.3 886.5 L1633.3 887.9 L1636.3 889.3 L1639.3 890.7 L1642.3 892.1 L1645.3 893.5 L1648.3 895.0 L1651.3 896.6 L1654.3 898.2 L1657.3 899.6 L1660.3 900.9 L1663.3 902.1 L1666.3 903.2 L1669.3 904.2 L1672.3 905.2 L1675.3 905.9 L1678.3 906.5 L1681.3 907.0 L1684.3 907.6 L1687.3 908.4 L1690.3 909.3 L1693.3 910.3 L1696.3 911.3 L1699.3 912.4 L1702.3 913.6 L1705.3 914.9 L1708.3 916.4 L1711.3 917.8 L1714.3 919.0 L1717.3 920.1 L1720.3 921.1 L1723.3 922.0 L1726.3 922.9 L1729.3 923.7 L1732.3 924.4 L1735.3 924.9 L1738.3 925.4 L1741.3 926.1 L1744.3 926.8 L1747.3 927.5 L1750.3 928.2 L1753.3 929.0 L1756.3 929.8 L1759.3 930.6 L1762.3 931.4 L1765.3 932.2 L1768.3 933.0 L1771.3 933.8 L1774.3 934.6 L1777.3 935.4 L1780.3 936.2 L1783.3 937.0 L1786.3 937.8 L1789.3 938.6 L1792.3 939.3 L1795.3 940.1 L1798.3 940.9 L1801.3 941.7 L1804.3 942.6 L1807.3 943.5 L1810.3 944.3 L1813.3 945.3 L1816.3 946.3 L1819.3 947.3 L1822.3 948.3 L1825.3 949.2 L1828.3 950.1 L1831.3 950.8 L1834.3 951.5 L1837.3 952.1 L1840.3 952.7 L1843.3 953.2 L1846.3 953.6 L1849.3 954.1 L1852.3 954.5 L1855.3 954.9 L1858.3 955.4 L1861.3 955.8 L1864.3 956.2 L1867.3 956.7 L1870.3 957.0 L1873.3 957.4 L1876.3 957.8 L1879.3 958.1 L1882.3 958.5 L1885.3 958.9 L1888.3 959.3 L1891.3 959.7 L1894.3 960.3 L1897.3 961.1 L1900.3 962.1 L1903.3 963.3 L1906.3 964.7 L1909.3 966.2 L1912.3 967.8 L1915.3 969.2 L1918.3 970.4 L1921.3 971.5 L1924.3 972.5 L1927.3 973.2 L1930.3 973.8 L1933.3 974.1 L1936.3 974.1 L1939.3 974.2 L1942.3 974.4 L1945.3 974.7 L1948.3 975.0 L1951.3 975.3 L1954.3 975.6 L1957.3 975.8 L1960.3 975.9 L1963.3 976.0 L1966.3 976.0 L1969.3 976.2 L1972.3 976.5 L1975.3 976.8 L1978.3 977.1 L1981.3 977.5 L1984.3 978.0 L1987.3 978.5 L1990.3 979.0 L1993.3 979.6 L1996.3 979.9 L1999.3 980.2 L2002.3 980.5 L2005.3 980.8 L2008.3 981.1 L2011.3 981.5 L2014.3 981.9 L2017.3 982.5 L2020.3 983.4 L2023.3 984.6 L2026.3 985.9 L2029.3 987.4 L2032.3 988.9 L2035.3 990.3 L2038.3 991.6 L2041.3 992.7 L2044.3 993.6 L2047.3 994.3 L2050.3 994.9 L2053.3 995.4 L2056.3 995.8 L2059.3 996.2 L2062.3 996.5 L2065.3 996.8 L2068.3 997.0 L2071.3 997.2 L2074.3 997.4 L2077.3 997.5 L2080.3 997.5 L2083.3 997.5 L2086.3 997.3 L2089.3 996.9 L2092.3 996.4 L2095.3 996.1 L2098.3 996.1 L2101.3 996.2 L2104.3 996.5 L2107.3 996.8 L2110.3 997.2 L2113.3 997.8 L2116.3 998.5 L2119.3 999.4 L2122.3 1000.3 L2125.3 1001.1 L2128.3 1001.9 L2131.3 1002.7 L2134.3 1003.6 L2137.3 1004.5 L2140.3 1005.4 L2143.3 1006.5 L2146.3 1007.7 L2149.3 1009.0 L2152.3 1010.2 L2155.3 1011.2 L2158.3 1012.0 L2161.3 1012.7 L2164.3 1013.4 L2167.3 1013.9 L2170.3 1014.4 L2173.3 1014.8 L2176.3 1015.1 L2179.3 1015.2 L2182.3 1015.4 L2185.3 1015.6 L2188.3 1015.7 L2191.3 1015.9 L2194.3 1015.9 L2197.3 1015.9 L2200.3 1015.7 L2203.3 1015.3 L2206.3 1014.7 L2209.3 1014.3 L2212.3 1014.1 L2215.3 1014.3 L2218.3 1014.6 L2221.3 1015.1 L2224.3 1015.8 L2227.3 1016.6 L2230.3 1017.6 L2233.3 1018.6 L2236.3 1019.6 L2239.3 1020.4 L2242.3 1021.1 L2245.3 1021.6 L2248.3 1022.0 L2251.3 1022.1 L2254.3 1022.1 L2257.3 1022.0 L2260.3 1022.0 L2263.3 1022.4 L2266.3 1022.9 L2269.3 1023.7 L2272.3 1024.5 L2275.3 1025.5 L2278.3 1026.6 L2281.3 1027.8 L2284.3 1029.1 L2287.3 1030.6 L2290.1 1032.0" stroke="#ff00ff" stroke-width="10" fill="none" stroke-linejoin="round" stroke-linecap="round"/>
</g>
<line x1="1323.1" y1="362.3" x2="1323.1" y2="1613" stroke="#000" stroke-width="2.2" stroke-dasharray="9.5 10.27"/>
<line x1="1478.0" y1="362.3" x2="1478.0" y2="1613" stroke="#000" stroke-width="2.2" stroke-dasharray="9.5 10.27"/>
<text transform="translate(227.1 1646.2) scale(1 1.025)" font-size="110.0">0.0</text>
<text transform="translate(227.1 1298.0) scale(1 1.025)" font-size="110.0">0.1</text>
<text transform="translate(227.1 949.8) scale(1 1.025)" font-size="110.0">0.2</text>
<text transform="translate(227.1 601.7) scale(1 1.025)" font-size="110.0">0.3</text>
<text transform="translate(227.1 253.5) scale(1 1.025)" font-size="110.0">0.4</text>
<text x="505.0" y="1752.5" font-size="113.0">400</text>
<text x="842.8" y="1752.5" font-size="113.0">500</text>
<text x="1179.4" y="1752.5" font-size="113.0">600</text>
<text x="1518.3" y="1752.5" font-size="113.0">700</text>
<text x="1856.0" y="1752.5" font-size="113.0">800</text>
<text x="2193.3" y="1752.5" font-size="113.0">900</text>
<text transform="translate(997.6 1926.5) scale(1.0000 1.0320)" font-size="104.9">Wavelength (nm)</text>
<text transform="translate(522.9 179.2) scale(1.0000 1.0450)" font-size="95.3">Annealing in Air</text>
<text transform="translate(1787.2 147.5) scale(1.0000 1.0350)" font-size="87.4">Temperature :</text>
<text x="1171.1" y="679.0" font-size="92.5">613</text>
<text x="1508.5" y="785.0" font-size="92.6">660</text>
<text transform="translate(115.4 1283.5) rotate(-90)" font-size="104.3">Absorbance (A.U.)</text>
<rect x="1852.3" y="186.2" width="460" height="534.9" fill="none" stroke="#000" stroke-width="2"/>
<line x1="1865.2" y1="248.6" x2="2024" y2="248.6" stroke="#000000" stroke-width="10" stroke-linecap="round"/>
<text y="273.1" font-size="87.6"><tspan x="2045.8">100 </tspan><tspan x="2213.3" dy="-10.5" font-size="75.5">◦</tspan><tspan x="2240.5" dy="10.5">C</tspan></text>
<line x1="1865.2" y1="355.1" x2="2024" y2="355.1" stroke="#ff0000" stroke-width="10" stroke-linecap="round"/>
<text y="379.6" font-size="87.6"><tspan x="2046.6">200 </tspan><tspan x="2218.8" dy="-10.5" font-size="75.5">◦</tspan><tspan x="2244.3" dy="10.5">C</tspan></text>
<line x1="1865.2" y1="462.4" x2="2024" y2="462.4" stroke="#0000ff" stroke-width="10" stroke-linecap="round"/>
<text y="486.9" font-size="87.6"><tspan x="2046.6">250 </tspan><tspan x="2218.8" dy="-10.5" font-size="75.5">◦</tspan><tspan x="2244.3" dy="10.5">C</tspan></text>
<line x1="1865.2" y1="569.7" x2="2024" y2="569.7" stroke="#008080" stroke-width="10" stroke-linecap="round"/>
<text y="594.2" font-size="87.6"><tspan x="2046.6">275 </tspan><tspan x="2218.8" dy="-10.5" font-size="75.5">◦</tspan><tspan x="2244.3" dy="10.5">C</tspan></text>
<line x1="1865.2" y1="675.4" x2="2024" y2="675.4" stroke="#ff00ff" stroke-width="10" stroke-linecap="round"/>
<text y="699.9" font-size="87.6"><tspan x="2047.7">300 </tspan><tspan x="2218.8" dy="-10.5" font-size="75.5">◦</tspan><tspan x="2244.3" dy="10.5">C</tspan></text>
</svg></body></html>
